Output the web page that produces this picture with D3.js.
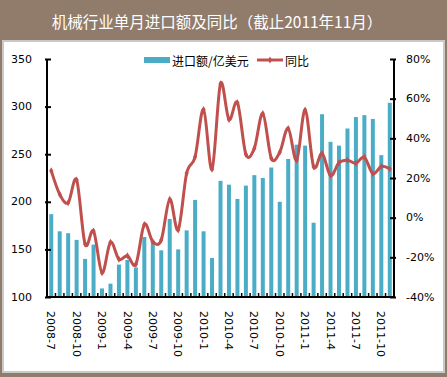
<!DOCTYPE html>
<html><head><meta charset="utf-8">
<script src="https://cdn.jsdelivr.net/npm/d3@7"></script>
<style>body{margin:0;background:#fff}svg{display:block}</style>
</head><body>
<script>
const months = ["2008-7","2008-8","2008-9","2008-10","2008-11","2008-12","2009-1","2009-2","2009-3","2009-4","2009-5","2009-6","2009-7","2009-8","2009-9","2009-10","2009-11","2009-12","2010-1","2010-2","2010-3","2010-4","2010-5","2010-6","2010-7","2010-8","2010-9","2010-10","2010-11","2010-12","2011-1","2011-2","2011-3","2011-4","2011-5","2011-6","2011-7","2011-8","2011-9","2011-10","2011-11"];
const imports = [187,169,167,160,140,155,109,114,134,139,131,163,159,149,182,150,170,202,169,141,222,218,203,217,228,225,236,200,245,260,259,178,292,263,259,277,289,291,287,249,304];
const yoy = [23.7,11.8,7.5,19,-13.3,-6.7,-27.8,-12.4,-21,-19.2,-23.5,-3.4,-12.1,-11.3,9.3,-6.2,22.4,30.7,54.6,24.4,67.5,49.5,58,32,35,52.5,30,33,45,29,54.3,25.7,32.4,21.2,27.7,29,27.4,30.5,22.2,25.8,24.6];
const leftTicks = [100,150,200,250,300,350];
const rightTicks = [-40,-20,0,20,40,60,80];
const shownLabels = months.filter((d,i)=>i%3===0);
const title = "机械行业单月进口额及同比（截止2011年11月）";
const legendNames = ["进口额/亿美元","同比"];

const W=447,H=377;
const L=47,R=394,T=59,B=297;
const barColor="#4bacc6", lineColor="#c0504d";
const svg=d3.select("body").append("svg").attr("width",W).attr("height",H);

// frame
svg.append("rect").attr("width",W).attr("height",H).attr("fill","#917b6b");
svg.append("rect").attr("x",3).attr("y",41).attr("width",441).attr("height",331)
  .attr("fill","#fff").attr("stroke","#c9c9c9").attr("stroke-width",2);
svg.append("text").attr("x",217).attr("y",21).attr("text-anchor","middle")
  .attr("dominant-baseline","central").attr("fill","#fff")
  .attr("font-family","'Noto Sans CJK SC'").attr("font-size",15.5).text(title);

const x=d3.scaleBand().domain(months).range([L,R]).paddingInner(0.52).paddingOuter(0.26);
const xb=d3.scaleBand().domain(months).range([L,R]);
const y=d3.scaleLinear().domain([100,350]).range([B,T]);
const y2=d3.scaleLinear().domain([-40,80]).range([B,T]);

const font="'DejaVu Sans'";
// bars
svg.append("g").selectAll("rect").data(imports).join("rect")
  .attr("x",(d,i)=>xb(months[i])+xb.bandwidth()/2-2).attr("width",4)
  .attr("y",d=>y(d)).attr("height",d=>B-y(d)).attr("fill",barColor);

// axes
const axL=svg.append("g").attr("transform",`translate(${L},0)`)
  .call(d3.axisLeft(y).tickValues(leftTicks).tickSize(2).tickFormat(""));
axL.select(".domain").remove();
axL.selectAll(".tick line").attr("x2",-2).attr("x1",4).attr("stroke","#000").attr("stroke-width",2);
svg.append("g").selectAll("text").data(leftTicks).join("text")
  .attr("x",32).attr("y",d=>y(d)).attr("text-anchor","end").attr("dominant-baseline","central")
  .attr("font-family",font).attr("font-size",11).attr("fill","#000").text(d=>d);

const axR=svg.append("g").attr("transform",`translate(${R},0)`)
  .call(d3.axisRight(y2).tickValues(rightTicks).tickSize(2).tickFormat(""));
axR.select(".domain").remove();
axR.selectAll(".tick line").attr("x2",2).attr("x1",-4).attr("stroke","#000").attr("stroke-width",2);
svg.append("g").selectAll("text").data(rightTicks).join("text")
  .attr("x",406).attr("y",d=>y2(d)).attr("text-anchor","start").attr("dominant-baseline","central")
  .attr("font-family",font).attr("font-size",11).attr("fill","#000").text(d=>d+"%");

svg.append("line").attr("x1",L).attr("x2",L).attr("y1",T).attr("y2",B+1).attr("stroke","#000").attr("stroke-width",2);
svg.append("line").attr("x1",R).attr("x2",R).attr("y1",T).attr("y2",B+1).attr("stroke","#000").attr("stroke-width",2);
svg.append("line").attr("x1",L-1).attr("x2",R+1).attr("y1",B).attr("y2",B).attr("stroke","#000").attr("stroke-width",2);
// category ticks
svg.append("g").selectAll("line").data(months.slice(1)).join("line")
  .attr("x1",d=>xb(d)).attr("x2",d=>xb(d)).attr("y1",B).attr("y2",B-4)
  .attr("stroke","#000").attr("stroke-width",1.5);
// x labels
svg.append("g").selectAll("text").data(shownLabels).join("text")
  .attr("transform",d=>`translate(${xb(d)+xb.bandwidth()/2},311) rotate(90)`)
  .attr("dy","0.35em").attr("font-family",font).attr("font-size",11).attr("fill","#000").text(d=>d);

// line
const cx=i=>xb(months[i])+xb.bandwidth()/2;
const line=d3.line().x((d,i)=>cx(i)).y(d=>y2(d)).curve(d3.curveCardinal.tension(0));
svg.append("path").datum(yoy).attr("d",line).attr("fill","none").attr("stroke",lineColor)
  .attr("stroke-width",3).attr("stroke-linejoin","round");
const diamond=d3.symbol().type(d3.symbolDiamond).size(14);
svg.append("g").selectAll("path").data(yoy).join("path")
  .attr("transform",(d,i)=>`translate(${cx(i)},${y2(d)})`).attr("d",diamond).attr("fill",lineColor);

// legend
svg.append("rect").attr("x",144).attr("y",57).attr("width",26).attr("height",6).attr("fill",barColor);
svg.append("text").attr("x",172).attr("y",60).attr("dominant-baseline","central")
  .attr("font-family","'Noto Sans CJK SC'").attr("font-size",12).attr("fill","#000").text(legendNames[0]);
svg.append("line").attr("x1",257).attr("x2",283).attr("y1",60).attr("y2",60).attr("stroke",lineColor).attr("stroke-width",3);
svg.append("path").attr("transform","translate(270,60)").attr("d",diamond).attr("fill",lineColor);
svg.append("text").attr("x",285).attr("y",60).attr("dominant-baseline","central")
  .attr("font-family","'Noto Sans CJK SC'").attr("font-size",12).attr("fill","#000").text(legendNames[1]);
</script>
</body></html>
